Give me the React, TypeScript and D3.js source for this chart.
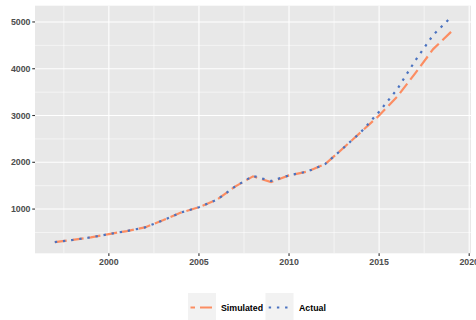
import React from "react";
import * as d3 from "d3";

const years = [1997, 1998, 1999, 2000, 2001, 2002, 2003, 2004, 2005, 2006, 2007, 2008, 2009, 2010, 2011, 2012, 2013, 2014, 2015, 2016, 2017, 2018, 2019];
const actual = [295, 340, 395, 465, 530, 607, 760, 925, 1040, 1200, 1480, 1710, 1600, 1720, 1800, 1960, 2300, 2650, 3080, 3560, 4170, 4720, 5107];
const simulated = [295, 340, 395, 465, 530, 607, 760, 925, 1040, 1200, 1480, 1700, 1575, 1720, 1800, 1960, 2300, 2650, 3000, 3400, 3900, 4420, 4790];
const xTicks = [2000, 2005, 2010, 2015, 2020];
const yTicks = [1000, 2000, 3000, 4000, 5000];
const seriesNames = ["Simulated", "Actual"];

const W = 476, H = 320;
const L = 35, R = 471, T = 5.7, B = 253.3;

export default function App() {
  const all = actual.concat(simulated);
  const minV = d3.min(all)!, maxV = d3.max(all)!;
  const padY = (maxV - minV) * 0.05;
  const padX = (d3.max(years)! - d3.min(years)!) * 0.05;
  const x = d3.scaleLinear().domain([d3.min(years)! - padX, d3.max(years)! + padX]).range([L, R]);
  const y = d3.scaleLinear().domain([minV - padY, maxV + padY]).range([B, T]);

  const line = d3.line<number>().x((_, i) => x(years[i])).y((v) => y(v));

  const xMinor = [1997.5, 2002.5, 2007.5, 2012.5, 2017.5].filter((v) => x(v) >= L && x(v) <= R);
  const yMinor = [500, 1500, 2500, 3500, 4500].filter((v) => y(v) <= B && y(v) >= T);

  const font = "'Liberation Sans', Arial, sans-serif";
  const orange = "#FC8D62";
  const blue = "#4a72c0";
  const lw = 2.2;

  return (
    <svg width={W} height={H} style={{ position: "absolute", left: 0, top: 0, background: "#fff" }} fontFamily={font}>
      <rect x={L} y={T} width={R - L} height={B - T} fill="#E8E8E8" />
      {xMinor.map((v) => (
        <line key={"xm" + v} x1={x(v)} x2={x(v)} y1={T} y2={B} stroke="#fff" strokeWidth={0.55} />
      ))}
      {yMinor.map((v) => (
        <line key={"ym" + v} x1={L} x2={R} y1={y(v)} y2={y(v)} stroke="#fff" strokeWidth={0.55} />
      ))}
      {xTicks.map((v) => (
        <line key={"xg" + v} x1={x(v)} x2={x(v)} y1={T} y2={B} stroke="#fff" strokeWidth={1.1} />
      ))}
      {yTicks.map((v) => (
        <line key={"yg" + v} x1={L} x2={R} y1={y(v)} y2={y(v)} stroke="#fff" strokeWidth={1.1} />
      ))}
      <path d={line(simulated) || ""} fill="none" stroke={orange} strokeWidth={lw} strokeDasharray="12 5" />
      <path d={line(actual) || ""} fill="none" stroke={blue} strokeWidth={lw} strokeDasharray="2.4 5.8" />
      {xTicks.map((v) => (
        <g key={"xt" + v}>
          <line x1={x(v)} x2={x(v)} y1={B} y2={B + 2.75} stroke="#333" strokeWidth={1.1} />
          <text x={x(v)} y={B + 11.5} textAnchor="middle" fontSize={8.8} fontWeight="bold" fill="#4d4d4d">{v}</text>
        </g>
      ))}
      {yTicks.map((v) => (
        <g key={"yt" + v}>
          <line x1={L - 2.75} x2={L} y1={y(v)} y2={y(v)} stroke="#333" strokeWidth={1.1} />
          <text x={L - 4.5} y={y(v) + 3.1} textAnchor="end" fontSize={8.8} fontWeight="bold" fill="#4d4d4d">{v}</text>
        </g>
      ))}
      {/* legend */}
      <g>
        <rect x={188} y={293} width={28} height={28} fill="#F2F2F2" />
        <line x1={190.5} x2={212} y1={307.5} y2={307.5} stroke={orange} strokeWidth={lw} strokeDasharray="12 5" strokeDashoffset={7.5} />
        <text x={221} y={310.7} fontSize={8.8} fontWeight="bold" fill="#000">{seriesNames[0]}</text>
        <rect x={265.5} y={293} width={28} height={28} fill="#F2F2F2" />
        <line x1={268.7} x2={292} y1={307.5} y2={307.5} stroke={blue} strokeWidth={lw} strokeDasharray="2.4 5.8" />
        <text x={299} y={310.7} fontSize={8.8} fontWeight="bold" fill="#000">{seriesNames[1]}</text>
      </g>
    </svg>
  );
}
